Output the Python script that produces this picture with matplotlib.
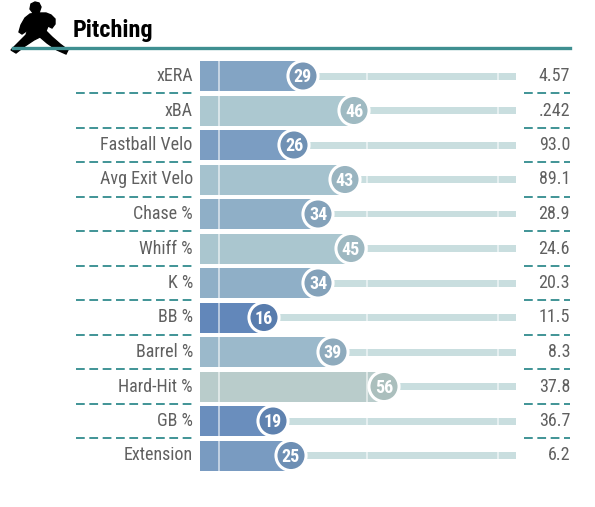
import matplotlib
matplotlib.use("Agg")
import matplotlib.pyplot as plt
import matplotlib.transforms as mtransforms
from matplotlib.colors import LinearSegmentedColormap, to_rgb
from matplotlib.patches import Polygon
import numpy as np

metrics = ["xERA", "xBA", "Fastball Velo", "Avg Exit Velo", "Chase %", "Whiff %",
           "K %", "BB %", "Barrel %", "Hard-Hit %", "GB %", "Extension"]
percentiles = [29, 46, 26, 43, 34, 45, 34, 16, 39, 56, 19, 25]
values = ["4.57", ".242", "93.0", "89.1", "28.9", "24.6", "20.3", "11.5", "8.3", "37.8", "36.7", "6.2"]
title = "Pitching"

FONT = ["Roboto Condensed", "Liberation Sans Narrow", "Roboto", "DejaVu Sans"]
plt.rcParams["font.family"] = FONT
plt.rcParams["lines.scale_dashes"] = False

W, H = 595, 507
fig = plt.figure(figsize=(W / 100, H / 100), dpi=100)

def fx(px):
    return px / W

def fy(py):
    return 1 - py / H

ax_left, ax_right = 200, 517
ax_top, ax_bot = 58.75, 472.75
ax = fig.add_axes([fx(ax_left), fy(ax_bot), (ax_right - ax_left) / W, (ax_bot - ax_top) / H])
x0 = -16 / 3.0
ax.set_xlim(x0, 100 + 1 / 3.0)
n = len(metrics)
ax.set_ylim(n - 0.5, -0.5)
ax.axis("off")

cmap = LinearSegmentedColormap.from_list(
    "savant", [(0.0, "#3661AD"), (0.5, "#B4CFD1"), (0.6, "#B8C8C4"), (1.0, "#D82129")])

y = np.arange(n)
pct = np.array(percentiles, dtype=float)
cols = [cmap(p / 100.0) for p in pct]

def lighten(c, a=0.97):
    r, g, b = to_rgb(c)
    return (1 - a + a * r, 1 - a + a * g, 1 - a + a * b)

def darken(c, a=0.94):
    r, g, b = to_rgb(c)
    return (a * r, a * g, a * b)

bar_h = 30 / 34.5
ax.barh(y, 100 - pct, left=pct, height=7 / 34.5, color="#C9DEDF", zorder=1)
ax.barh(y, pct - x0, left=x0, height=bar_h, color=[lighten(c) for c in cols], zorder=2)
for gx in [1, 50.3, 94]:
    ax.vlines(np.full(n, gx), y - bar_h / 2, y + bar_h / 2, colors="white",
              linewidth=1.4, alpha=0.55, zorder=3)
ax.scatter(pct, y, s=470, c=[darken(c) for c in cols], edgecolors="white",
           linewidths=2.2, zorder=5)
for p, yy in zip(percentiles, y):
    ax.text(p, yy + 0.03, str(p), ha="center", va="center", color="white",
            fontsize=13, fontweight="bold", zorder=6)

for yy, lab, val in zip(y, metrics, values):
    ax.annotate(lab, xy=(0, yy), xycoords=("axes fraction", "data"),
                xytext=(-5.2, 0), textcoords="offset points", ha="right", va="center",
                fontsize=13, color="#606060")
    ax.annotate(val, xy=(1, yy), xycoords=("axes fraction", "data"),
                xytext=(38.2, 0), textcoords="offset points", ha="right", va="center",
                fontsize=13, color="#606060")

blend = mtransforms.blended_transform_factory(fig.transFigure, ax.transData)
for i in range(n - 1):
    ys = i + 0.5
    for a, b in [(76, 193), (524, 570)]:
        ax.plot([fx(a), fx(b)], [ys, ys], transform=blend, clip_on=False,
                color="#409496", linewidth=1.4, dashes=(6.3, 3.3), zorder=1)

fig.add_artist(plt.Line2D([fx(13), fx(570)], [fy(47.5), fy(47.5)], color="#3F8F91",
                          linewidth=2.4, transform=fig.transFigure))
fig.text(fx(73), fy(37.5), title, fontsize=17.5, fontweight="bold", color="black",
         ha="left", va="baseline")

# pitcher icon (decorative silhouette)
body = [(30, 14), (38, 13), (46, 13), (51, 15), (55, 19), (55, 24), (52, 28), (48, 26),
        (46, 31), (52, 37), (60, 44), (68, 50), (66, 54), (57, 50), (47, 43), (40, 37),
        (34, 40), (25, 46), (16, 53), (11, 50), (19, 42), (26, 35), (28, 29), (25, 32),
        (22, 34), (19, 32), (21, 25), (25, 18)]
fig.add_artist(Polygon([(fx(a), fy(b)) for a, b in body], closed=True, color="black",
                       transform=fig.transFigure))
fig.add_artist(Polygon([(fx(a), fy(b)) for a, b in
                        [(31, 4), (35, 2), (39, 3), (41, 7), (39, 13), (33, 13), (30, 9)]],
                       closed=True, color="black", transform=fig.transFigure))

fig.savefig("out.png", dpi=100, facecolor="white")
